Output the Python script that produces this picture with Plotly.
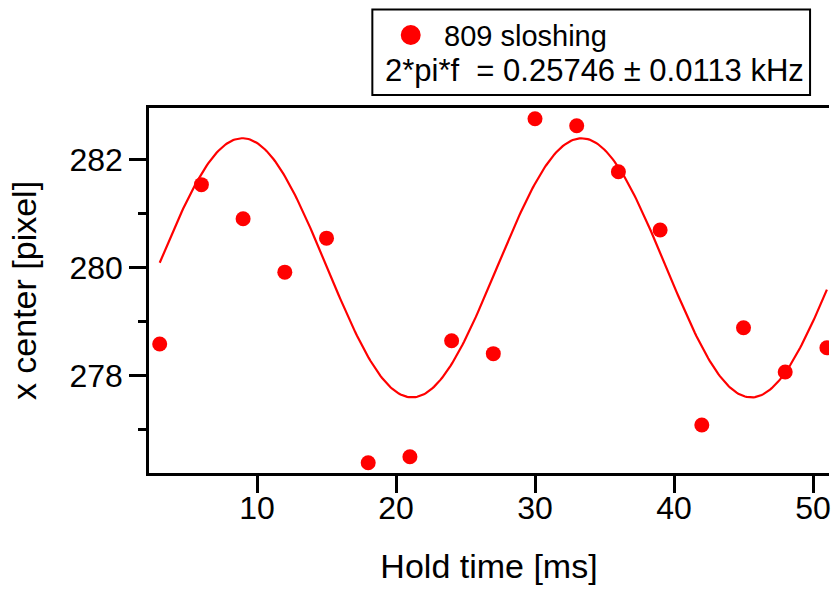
import numpy as np
import plotly.graph_objects as go

# Measured centre-of-mass position versus hold time
hold_time_ms = [3, 6, 9, 12, 15, 18, 21, 24, 27, 30, 33, 36, 39, 42, 45, 48, 51]
x_center_px = [278.59, 281.54, 280.91, 279.92, 280.55, 276.39, 276.50, 278.65,
               278.41, 282.76, 282.63, 281.78, 280.70, 277.09, 278.89, 278.07, 278.52]

# Sinusoidal fit: y = offset + amp * sin(omega * t + phase)
fit_offset = 280.0
fit_amp = 2.4
fit_omega = 0.25746      # 2*pi*f in rad/ms (kHz)
fit_omega_err = 0.0113
fit_phase = -0.7335

series_name = "809 sloshing"
x_title = "Hold time [ms]"
y_title = "x center [pixel]"
x_ticks = [10, 20, 30, 40, 50]
y_ticks = [278, 280, 282]

t_fit = np.linspace(min(hold_time_ms), max(hold_time_ms), 400)
y_fit = fit_offset + fit_amp * np.sin(fit_omega * t_fit + fit_phase)

W, H = 831, 590
L, R, T, B = 149, 0, 108, 117
plot_w = W - L - R
plot_h = H - T - B


def px_x(px):
    return (px - L) / plot_w


def px_y(py):
    return (H - B - py) / plot_h


FONT = "Liberation Sans"

fig = go.Figure()
fig.add_trace(go.Scatter(
    x=t_fit, y=y_fit, mode="lines",
    line=dict(color="#ff0000", width=2.2),
    showlegend=False, hoverinfo="skip",
))
fig.add_trace(go.Scatter(
    x=hold_time_ms, y=x_center_px, mode="markers",
    marker=dict(color="#ff0000", size=15, line=dict(width=0)),
    name=series_name, showlegend=False,
))

# Legend box drawn by hand: frame, symbol and two text lines
fig.add_shape(type="rect", xref="paper", yref="paper",
              x0=px_x(373), x1=px_x(812), y0=px_y(95), y1=px_y(9.5),
              line=dict(color="black", width=2), fillcolor="white", layer="above")
fig.add_shape(type="circle", xref="paper", yref="paper",
              x0=px_x(401.5), x1=px_x(421.5), y0=px_y(45), y1=px_y(25),
              line=dict(width=0), fillcolor="#ff0000", layer="above")
fig.add_annotation(xref="paper", yref="paper", x=px_x(443), y=px_y(36),
                   xanchor="left", yanchor="middle", showarrow=False,
                   text=series_name, font=dict(family=FONT, size=29, color="black"))
fig.add_annotation(xref="paper", yref="paper", x=px_x(384), y=px_y(70.5),
                   xanchor="left", yanchor="middle", showarrow=False,
                   text=f"2*pi*f\u00a0 = {fit_omega} \u00b1 {fit_omega_err} kHz",
                   font=dict(family=FONT, size=31, color="black"))

fig.update_layout(
    width=W, height=H,
    margin=dict(l=L, r=R, t=T, b=B, pad=0),
    paper_bgcolor="white", plot_bgcolor="white",
    font=dict(family=FONT, color="black"),
    xaxis=dict(
        range=[2.23, 51.15], tickvals=x_ticks,
        showline=True, linecolor="black", linewidth=2.5, mirror=True,
        ticks="outside", ticklen=17, tickwidth=2.5, tickcolor="black",
        showgrid=False, zeroline=False,
        tickfont=dict(family=FONT, size=32, color="black"),
        ticklabelstandoff=-12, ticklabeloverflow="allow",
        title=dict(text=x_title, font=dict(family=FONT, size=34, color="black"), standoff=30),
    ),
    yaxis=dict(
        range=[276.2, 282.96], tickvals=y_ticks,
        showline=True, linecolor="black", linewidth=2.5,
        ticks="outside", ticklen=17, tickwidth=2.5, tickcolor="black",
        minor=dict(dtick=1, tick0=277, ticks="outside", ticklen=8, tickwidth=2.5,
                   tickcolor="black", showgrid=False),
        showgrid=False, zeroline=False,
        tickfont=dict(family=FONT, size=32, color="black"),
        ticklabelstandoff=0,
        title=dict(text=y_title, font=dict(family=FONT, size=34, color="black"), standoff=23),
    ),
)

fig.write_html("out.html")
